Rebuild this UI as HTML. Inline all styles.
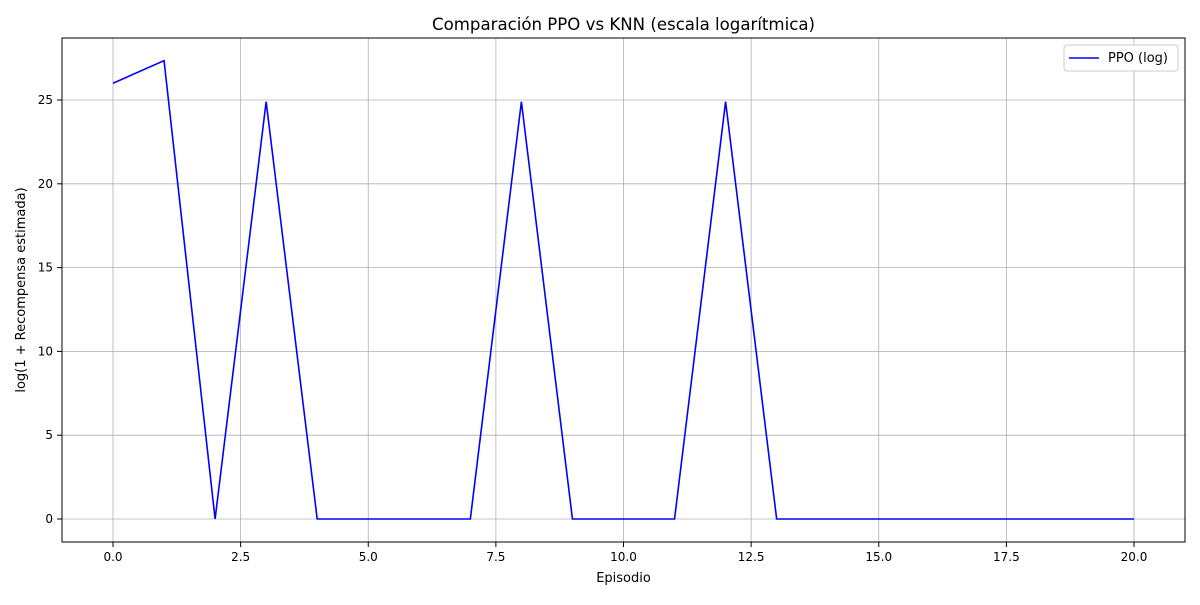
<!DOCTYPE html>
<html><head><meta charset="utf-8"><style>
body{margin:0;background:#fff;font-family:"Liberation Sans","DejaVu Sans",sans-serif;}
svg text{font-family:"DejaVu Sans","Liberation Sans",sans-serif;}
</style></head><body>
<svg id="chart" width="1200" height="600" xmlns="http://www.w3.org/2000/svg"></svg>
<script>
const episodes=[0,1,2,3,4,5,6,7,8,9,10,11,12,13,14,15,16,17,18,19,20];
const ppoLog=[26.0,27.35,0,24.9,0,0,0,0,24.9,0,0,0,24.9,0,0,0,0,0,0,0,0];
const xTicks=[0,2.5,5,7.5,10,12.5,15,17.5,20];
const xTickLabels=["0.0","2.5","5.0","7.5","10.0","12.5","15.0","17.5","20.0"];
const yTicks=[0,5,10,15,20,25];
const yTickLabels=["0","5","10","15","20","25"];
const L=62,R=1185,T=38,B=542;
const X=v=>113+v*(1134-113)/20;
const Y=v=>519-v*(519-100)/25;
const s=document.getElementById('chart');
const NS='http://www.w3.org/2000/svg';
function mk(t,a,txt){const e=document.createElementNS(NS,t);for(const k in a)e.setAttribute(k,a[k]);if(txt!==undefined)e.textContent=txt;s.appendChild(e);return e;}
xTicks.forEach((v,i)=>{
 let g=mk('line',{x1:X(v),x2:X(v),y1:T,y2:B,stroke:'#b0b0b0','stroke-width':0.8});
 
 
 mk('line',{x1:X(v),x2:X(v),y1:B,y2:B+5,stroke:'#000'});
 let t=mk('text',{x:X(v),y:B+19,'text-anchor':'middle','font-size':12},xTickLabels[i]);
 
 
});
yTicks.forEach((v,i)=>{
 let g=mk('line',{x1:L,x2:R,y1:Y(v),y2:Y(v),stroke:'#b0b0b0','stroke-width':0.8});
 
 
 mk('line',{x1:L-5,x2:L,y1:Y(v),y2:Y(v),stroke:'#000'});
 let t=mk('text',{x:L-9,y:Y(v)+4,'text-anchor':'end','font-size':12},yTickLabels[i]);
 
 
});
const ln=mk('polyline',{points:episodes.map((e,i)=>X(e)+','+Y(ppoLog[i])).join(' '),fill:'none',stroke:'#0000ff','stroke-width':1.6});


const fr=mk('rect',{x:L,y:T,width:R-L,height:B-T,fill:'none',stroke:'#000','stroke-width':1});


const ti=mk('text',{x:(L+R)/2,y:30,'text-anchor':'middle','font-size':16.6},'Comparación PPO vs KNN (escala logarítmica)');


const xl=mk('text',{x:(L+R)/2,y:582,'text-anchor':'middle','font-size':13},'Episodio');


const yl=mk('text',{x:25,y:290,'text-anchor':'middle','font-size':13,transform:'rotate(-90 25 290)'},'log(1 + Recompensa estimada)');


const lg=mk('rect',{x:1064,y:45,width:114,height:26,rx:3,fill:'#fff',stroke:'#ccc'});


mk('line',{x1:1069,x2:1099,y1:58,y2:58,stroke:'#0000ff','stroke-width':1.6});
const lt=mk('text',{x:1108,y:62,'font-size':13},'PPO (log)');


</script>
</body></html>
